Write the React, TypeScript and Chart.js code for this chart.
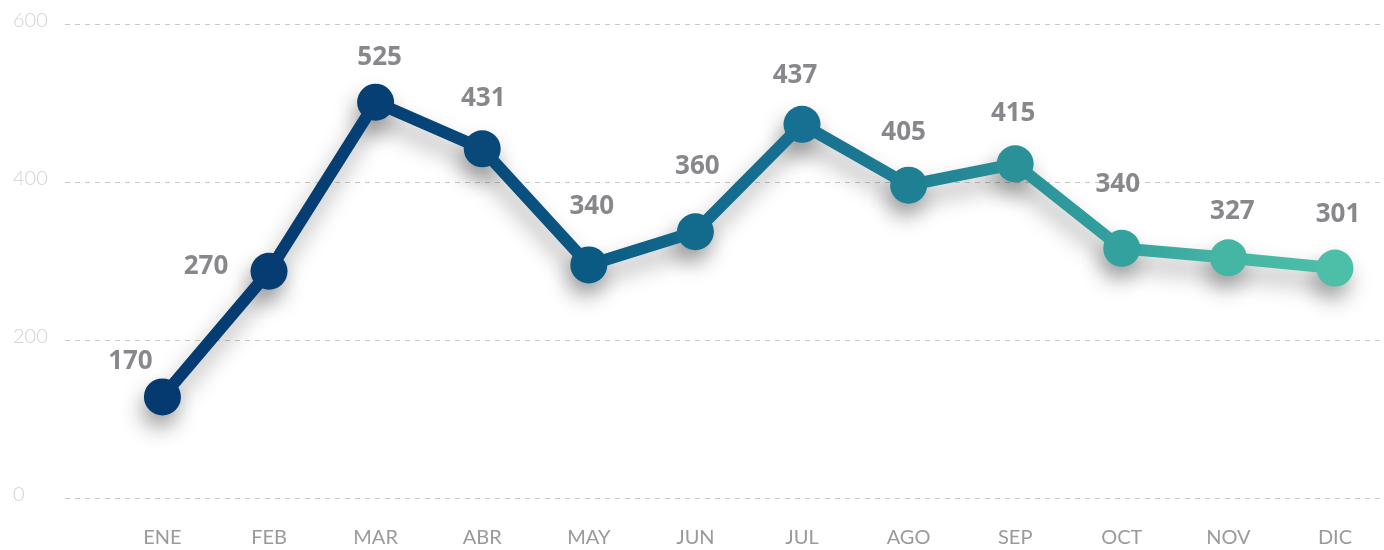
import React, { useEffect, useRef } from "react";
import { Chart, registerables } from "chart.js";

Chart.register(...registerables);

const months = ["ENE", "FEB", "MAR", "ABR", "MAY", "JUN", "JUL", "AGO", "SEP", "OCT", "NOV", "DIC"];
// plotted positions
const values = [128, 287, 501, 442, 295, 337, 473, 396, 423, 316, 304, 291];
// printed labels over each point
const labelTexts = ["170", "270", "525", "431", "340", "360", "437", "405", "415", "340", "327", "301"];
const yTicks = [0, 200, 400, 600];

// styling
const pointColors = [
  "#043a70", "#053d72", "#063f73", "#08497a", "#0b5a83", "#126a8c",
  "#176f91", "#1f7f93", "#2a9198", "#33a29f", "#45b6a4", "#4dbea8",
];
const labelDx = [-32, -63, 4, 1, 3, 2, -7, -5, -2, -4, 4, 3];
const labelDy = [-35, -5, -45, -50, -58, -65, -49, -53, -50, -64, -46, -54];

export default function App() {
  const ref = useRef<HTMLCanvasElement | null>(null);

  useEffect(() => {
    document.body.style.margin = "0";
    const canvas = ref.current;
    if (!canvas) return;

    const shadowPlugin = {
      id: "lineShadow",
      beforeDatasetsDraw(chart: any) {
        const ctx = chart.ctx;
        const meta = chart.getDatasetMeta(0);
        const off = 3000;
        ctx.save();
        ctx.shadowColor = "rgba(0,0,0,0.32)";
        ctx.shadowBlur = 22;
        ctx.shadowOffsetX = -3;
        ctx.shadowOffsetY = 13 + off;
        ctx.translate(0, -off);
        meta.dataset.draw(ctx, chart.chartArea);
        meta.data.forEach((p: any) => p.draw(ctx, chart.chartArea));
        ctx.restore();
      },
    };

    const labelPlugin = {
      id: "pointLabels",
      afterDatasetsDraw(chart: any) {
        const ctx = chart.ctx;
        const meta = chart.getDatasetMeta(0);
        ctx.save();
        ctx.font = "bold 26px 'Open Sans'";
        ctx.fillStyle = "#88888c";
        ctx.textAlign = "center";
        ctx.textBaseline = "middle";
        meta.data.forEach((p: any, i: number) => {
          ctx.fillText(labelTexts[i], p.x + labelDx[i], p.y + labelDy[i]);
        });
        ctx.restore();
      },
    };

    const chart = new Chart(canvas, {
      type: "line",
      data: {
        datasets: [
          {
            data: values.map((v, i) => ({ x: i, y: v })),
            borderWidth: 12,
            borderColor: (c: any) => {
              const ch = c.chart;
              const xs = ch.scales && ch.scales.x;
              if (!xs || !ch.chartArea) return pointColors[0];
              const x0 = xs.getPixelForValue(0);
              const x1 = xs.getPixelForValue(values.length - 1);
              const g = ch.ctx.createLinearGradient(x0, 0, x1, 0);
              pointColors.forEach((col, i) => g.addColorStop(i / (pointColors.length - 1), col));
              return g;
            },
            borderJoinStyle: "round",
            borderCapStyle: "round",
            pointRadius: 18.5,
            pointHoverRadius: 18.5,
            pointBorderWidth: 0,
            pointBackgroundColor: pointColors,
            tension: 0,
          },
        ],
      },
      options: {
        animation: false,
        responsive: false,
        events: [],
        layout: { autoPadding: false, padding: { top: 24, left: 13, right: 0, bottom: 0 } },
        plugins: { legend: { display: false }, tooltip: { enabled: false } },
        scales: {
          x: {
            type: "linear",
            min: -0.914,
            max: 11.46,
            afterBuildTicks: (s: any) => {
              s.ticks = months.map((_, i) => ({ value: i }));
            },
            afterFit: (s: any) => {
              s.height = 52;
            },
            grid: { display: false, drawTicks: false },
            border: { display: false },
            ticks: {
              callback: (v: any) => months[v as number] ?? "",
              color: "#9a9a9a",
              font: { family: "Lato", size: 20, weight: "normal" },
              padding: 28,
              maxRotation: 0,
              autoSkip: false,
            },
          },
          y: {
            min: 0,
            max: 600,
            afterBuildTicks: (s: any) => {
              s.ticks = yTicks.map((v) => ({ value: v }));
            },
            afterFit: (s: any) => {
              s.width = 52;
            },
            grid: {
              color: "#c9c9c9",
              lineWidth: 1,
              drawTicks: false,
            },
            border: { display: false, dash: [5, 5] },
            ticks: {
              color: "#d2d2d2",
              font: { family: "Lato", size: 20, weight: 300 },
              crossAlign: "far",
              labelOffset: -3,
              padding: 0,
            },
          },
        },
      },
      plugins: [shadowPlugin, labelPlugin],
    } as any);

    return () => chart.destroy();
  }, []);

  return (
    <div style={{ width: 1384, height: 550 }}>
      <canvas ref={ref} width={1384} height={550} style={{ display: "block", width: 1384, height: 550 }} />
    </div>
  );
}
